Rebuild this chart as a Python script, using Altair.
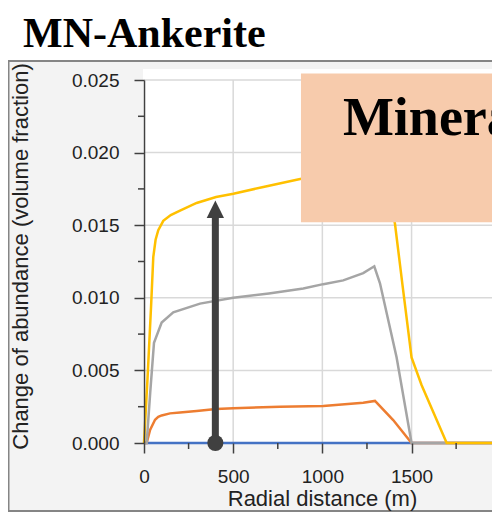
import altair as alt
import pandas as pd

# ---- data ----
yellow_x = [0, 20, 40, 52, 65, 80, 108, 150, 202, 295, 404, 501, 669, 856, 1000, 1150, 1300, 1340, 1407, 1450, 1500, 1556, 1697, 2000]
yellow_y = [0, 0.0045, 0.0095, 0.0128, 0.0140, 0.01465, 0.0153, 0.0157, 0.0160, 0.01653, 0.01694, 0.01717, 0.01763, 0.01813, 0.0185, 0.0189, 0.0194, 0.0190, 0.0151, 0.0108, 0.0059, 0.0040, 0.0, 0.0]

gray_x = [0, 15, 35, 56, 99, 164, 314, 500, 700, 893, 1005, 1117, 1229, 1291, 1323, 1416, 1500, 2000]
gray_y = [0, 0, 0.0035, 0.0069, 0.0083, 0.0090, 0.0096, 0.0100, 0.0103, 0.01064, 0.01094, 0.0112, 0.0117, 0.01217, 0.0110, 0.0059, 0.0, 0.0]

orange_x = [0, 15, 34, 62, 80, 99, 146, 202, 295, 404, 501, 762, 1005, 1229, 1295, 1397, 1500, 2000]
orange_y = [0, 0, 0.0009, 0.0016, 0.0018, 0.0019, 0.00204, 0.0021, 0.0022, 0.00234, 0.00239, 0.0025, 0.00255, 0.00277, 0.0029, 0.00158, 0.0, 0.0]

blue_x = [0, 2000]
blue_y = [0, 0]

series_names = ["S1", "S2", "S3", "S4"]
series_colors = ["#4472C4", "#ED7D31", "#A5A5A5", "#FFC000"]

x_ticks = [0, 500, 1000, 1500, 2000]
x_minor = [250, 750, 1250, 1750]
y_ticks = [0.0, 0.005, 0.010, 0.015, 0.020, 0.025]
y_minor = [0.0025, 0.0075, 0.0125, 0.0175, 0.0225]
x_grid = [500, 1000, 1500]
y_grid = [0.005, 0.010, 0.015, 0.020, 0.025]

arrow_x = 400
arrow_top = 0.0155
arrow_head = 0.0161

box_x = [880, 2150]
box_y = [0.0152, 0.02545]
box_line1 = "Mineral Trapping"
box_line2 = "Phase"
line1_pos = (1115, 0.02118)
line2_pos = (1962, 0.01685)

title_text = "MN-Ankerite"
x_title = "Radial distance (m)"
y_title = "Change of abundance (volume fraction)"

W, H = 348, 363
XD = [0, 1951]
YD = [0, 0.025]

rows = []
for name, xs_, ys_ in zip(series_names, [blue_x, orange_x, gray_x, yellow_x], [blue_y, orange_y, gray_y, yellow_y]):
    for i, (a, b) in enumerate(zip(xs_, ys_)):
        rows.append({"series": name, "x": a, "y": b, "order": i})
df = pd.DataFrame(rows)

xs = alt.Scale(domain=XD, nice=False, zero=False)
ys = alt.Scale(domain=YD, nice=False, zero=False)

one = pd.DataFrame({"a": [0]})

frame = alt.Chart(one).mark_rect(fill="#f3f3f3", stroke="#858585", strokeWidth=2).encode(
    x=alt.value(-135.5), x2=alt.value(430), y=alt.value(-19), y2=alt.value(431)
)
white = alt.Chart(one).mark_rect(fill="white").encode(
    x=alt.value(-1), x2=alt.value(430), y=alt.value(-11), y2=alt.value(H)
)

hgrid = alt.Chart(pd.DataFrame({"y": y_grid})).mark_rule(color="#d9d9d9", strokeWidth=1.5).encode(
    y=alt.Y("y:Q", scale=ys), x=alt.value(0), x2=alt.value(430)
)
vgrid = alt.Chart(pd.DataFrame({"x": x_grid})).mark_rule(color="#d9d9d9", strokeWidth=1.5).encode(
    x=alt.X("x:Q", scale=xs), y=alt.value(0), y2=alt.value(H)
)

xminor = alt.Chart(pd.DataFrame({"x": x_minor})).mark_rule(color="#404040", strokeWidth=1.5).encode(
    x=alt.X("x:Q", scale=xs), y=alt.value(H), y2=alt.value(H + 6)
)
yminor = alt.Chart(pd.DataFrame({"y": y_minor})).mark_rule(color="#404040", strokeWidth=1.5).encode(
    y=alt.Y("y:Q", scale=ys), x=alt.value(-6), x2=alt.value(0)
)

lines = alt.Chart(df).mark_line(strokeWidth=2.5).encode(
    x=alt.X("x:Q", scale=xs, axis=alt.Axis(
        values=x_ticks, format="d", title=x_title, grid=False, domain=False,
        tickSize=10, tickWidth=1.5, tickColor="#404040",
        labelFont="Liberation Sans", labelFontSize=19, labelColor="#222222",
        labelPadding=14, labelFlush=False, labelOverlap=False, labelBound=False,
        titleFont="Liberation Sans", titleFontSize=22, titleFontWeight="normal", titleColor="#222222",
        titleBaseline="alphabetic", titleY=62, titleX=178, zindex=1)),
    y=alt.Y("y:Q", scale=ys, axis=alt.Axis(
        values=y_ticks, format=".3f", title=y_title, grid=False,
        domainColor="#404040", domainWidth=1.5,
        tickSize=10, tickWidth=1.5, tickColor="#404040",
        labelFont="Liberation Sans", labelFontSize=19, labelColor="#222222",
        labelPadding=15, labelOverlap=False,
        titleFont="Liberation Sans", titleFontSize=22, titleFontWeight="normal", titleColor="#222222",
        titleBaseline="alphabetic", titleX=-117, titleY=176, titleAngle=-90, titleAlign="center", zindex=1)),
    color=alt.Color("series:N", scale=alt.Scale(domain=series_names, range=series_colors), legend=None),
    detail="series:N",
    order="order:Q",
)

arrow_df = pd.DataFrame({"x": [arrow_x], "y0": [0.0], "y1": [arrow_top], "yh": [arrow_head]})
shaft = alt.Chart(arrow_df).mark_rule(color="#404040", strokeWidth=7).encode(
    x=alt.X("x:Q", scale=xs), y=alt.Y("y0:Q", scale=ys), y2="y1:Q"
)
head = alt.Chart(arrow_df).mark_point(shape="M-1,1L1,1L0,-1Z", filled=True, color="#404040", opacity=1, size=300).encode(
    x=alt.X("x:Q", scale=xs), y=alt.Y("yh:Q", scale=ys)
)
dot = alt.Chart(arrow_df).mark_point(shape="circle", filled=True, color="#404040", opacity=1, size=260).encode(
    x=alt.X("x:Q", scale=xs), y=alt.Y("y0:Q", scale=ys)
)

box_df = pd.DataFrame({"x": [box_x[0]], "x2": [box_x[1]], "y": [box_y[0]], "y2": [box_y[1]]})
box = alt.Chart(box_df).mark_rect(fill="#F7CBAC").encode(
    x=alt.X("x:Q", scale=xs), x2="x2:Q", y=alt.Y("y:Q", scale=ys), y2="y2:Q"
)
txt_df = pd.DataFrame({"x": [line1_pos[0], line2_pos[0]], "y": [line1_pos[1], line2_pos[1]], "t": [box_line1, box_line2]})
box_text = alt.Chart(txt_df).mark_text(
    font="Liberation Serif", fontSize=54, fontWeight="bold", color="black", align="left", baseline="alphabetic"
).encode(x=alt.X("x:Q", scale=xs), y=alt.Y("y:Q", scale=ys), text="t:N")

title = alt.Chart(one).mark_text(
    text=title_text, font="Liberation Serif", fontSize=42, fontWeight="bold", color="black",
    align="left", baseline="alphabetic"
).encode(x=alt.value(-121), y=alt.value(-33))

chart = alt.layer(
    frame, white, hgrid, vgrid, lines, shaft, head, dot, box, box_text, xminor, yminor, title
).properties(
    width=W, height=H,
    autosize=alt.AutoSizeParams(type="none"),
    padding={"left": 136, "top": 72, "right": 0, "bottom": 69},
    background="white",
).configure_view(stroke=None)

chart.save("out.html", embed_options={"renderer": "svg", "actions": False})
